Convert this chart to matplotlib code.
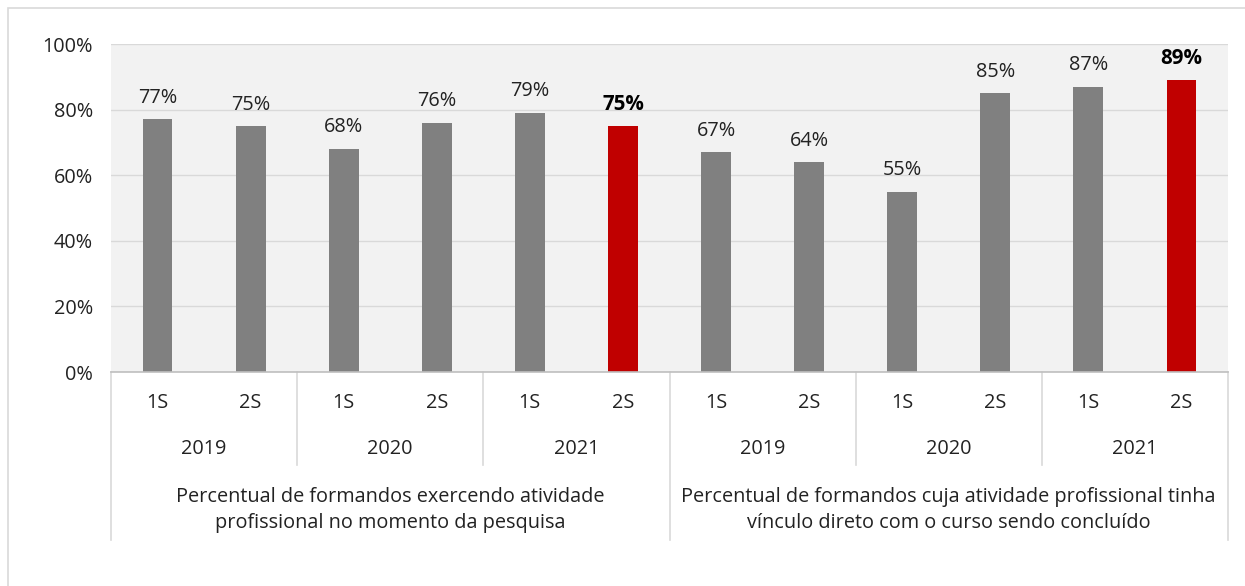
import matplotlib.pyplot as plt
import matplotlib.transforms as mtransforms
from matplotlib.patches import Rectangle

values = [77, 75, 68, 76, 79, 75, 67, 64, 55, 85, 87, 89]
semesters = ["1S", "2S"] * 6
years = ["2019", "2020", "2021", "2019", "2020", "2021"]
groups = [
    "Percentual de formandos exercendo atividade\nprofissional no momento da pesquisa",
    "Percentual de formandos cuja atividade profissional tinha\nvínculo direto com o curso sendo concluído",
]
highlight = [5, 11]

GRAY = "#808080"
RED = "#C00000"
LINE = "#D9D9D9"
TXT = "#222222"
FS = 14.3

W, H = 1245, 586
plt.rcParams["font.family"] = ["Open Sans", "DejaVu Sans"]
fig = plt.figure(figsize=(W / 100, H / 100), dpi=100)
fig.patch.set_facecolor("white")

# outer frame
fig.patches.append(Rectangle((8 / W, -0.1), 1.2, 1.1 - 8 / H, transform=fig.transFigure,
                             fill=False, edgecolor=LINE, linewidth=1.2))

left, right, top, bottom = 111, 1228, 44, 372
ax = fig.add_axes([left / W, 1 - bottom / H, (right - left) / W, (bottom - top) / H])
ax.set_facecolor("#F2F2F2")

n = len(values)
x = list(range(n))
colors = [RED if i in highlight else GRAY for i in x]
ax.bar(x, values, width=0.32, color=colors, zorder=3)

for i, v in zip(x, values):
    bold = i in highlight
    ax.text(i, v + 3.5, f"{v}%", ha="center", va="bottom", fontsize=FS + 0.5 if bold else FS,
            fontweight="bold" if bold else "normal",
            color="black" if bold else TXT, zorder=4)

ax.set_xlim(-0.5, n - 0.5)
ax.set_ylim(0, 100)
ax.set_yticks([0, 20, 40, 60, 80, 100])
ax.set_yticklabels([f"{t}%" for t in [0, 20, 40, 60, 80, 100]], fontsize=FS, color=TXT)
ax.tick_params(axis="y", length=0, pad=13)
ax.set_xticks([])
ax.grid(axis="y", color=LINE, linewidth=1, zorder=0)
for s in ["top", "right", "left"]:
    ax.spines[s].set_visible(False)
ax.spines["bottom"].set_color("#BFBFBF")
ax.spines["bottom"].set_linewidth(1.2)
ax.spines["bottom"].set_zorder(5)

# multi-level category axis
ph = bottom - top


def yfrac(py):
    return (bottom - py) / ph


trans = mtransforms.blended_transform_factory(ax.transData, ax.transAxes)
for i, s in enumerate(semesters):
    ax.text(i, yfrac(403), s, transform=trans, ha="center", va="center",
            fontsize=FS, color=TXT)
for j, yr in enumerate(years):
    ax.text(2 * j + 0.5, yfrac(449), yr, transform=trans, ha="center", va="center",
            fontsize=FS, color=TXT)
for k, g in enumerate(groups):
    ax.text(6 * k + 2.5, yfrac(510), g, transform=trans, ha="center", va="center",
            fontsize=FS, color=TXT, linespacing=1.35)

for b in range(0, n + 1, 2):
    xb = b - 0.5
    y_end = yfrac(540) if b % 6 == 0 else yfrac(465)
    ax.plot([xb, xb], [0, y_end], transform=trans, color=LINE, linewidth=1.2,
            clip_on=False)

fig.savefig("out.png", dpi=100)
